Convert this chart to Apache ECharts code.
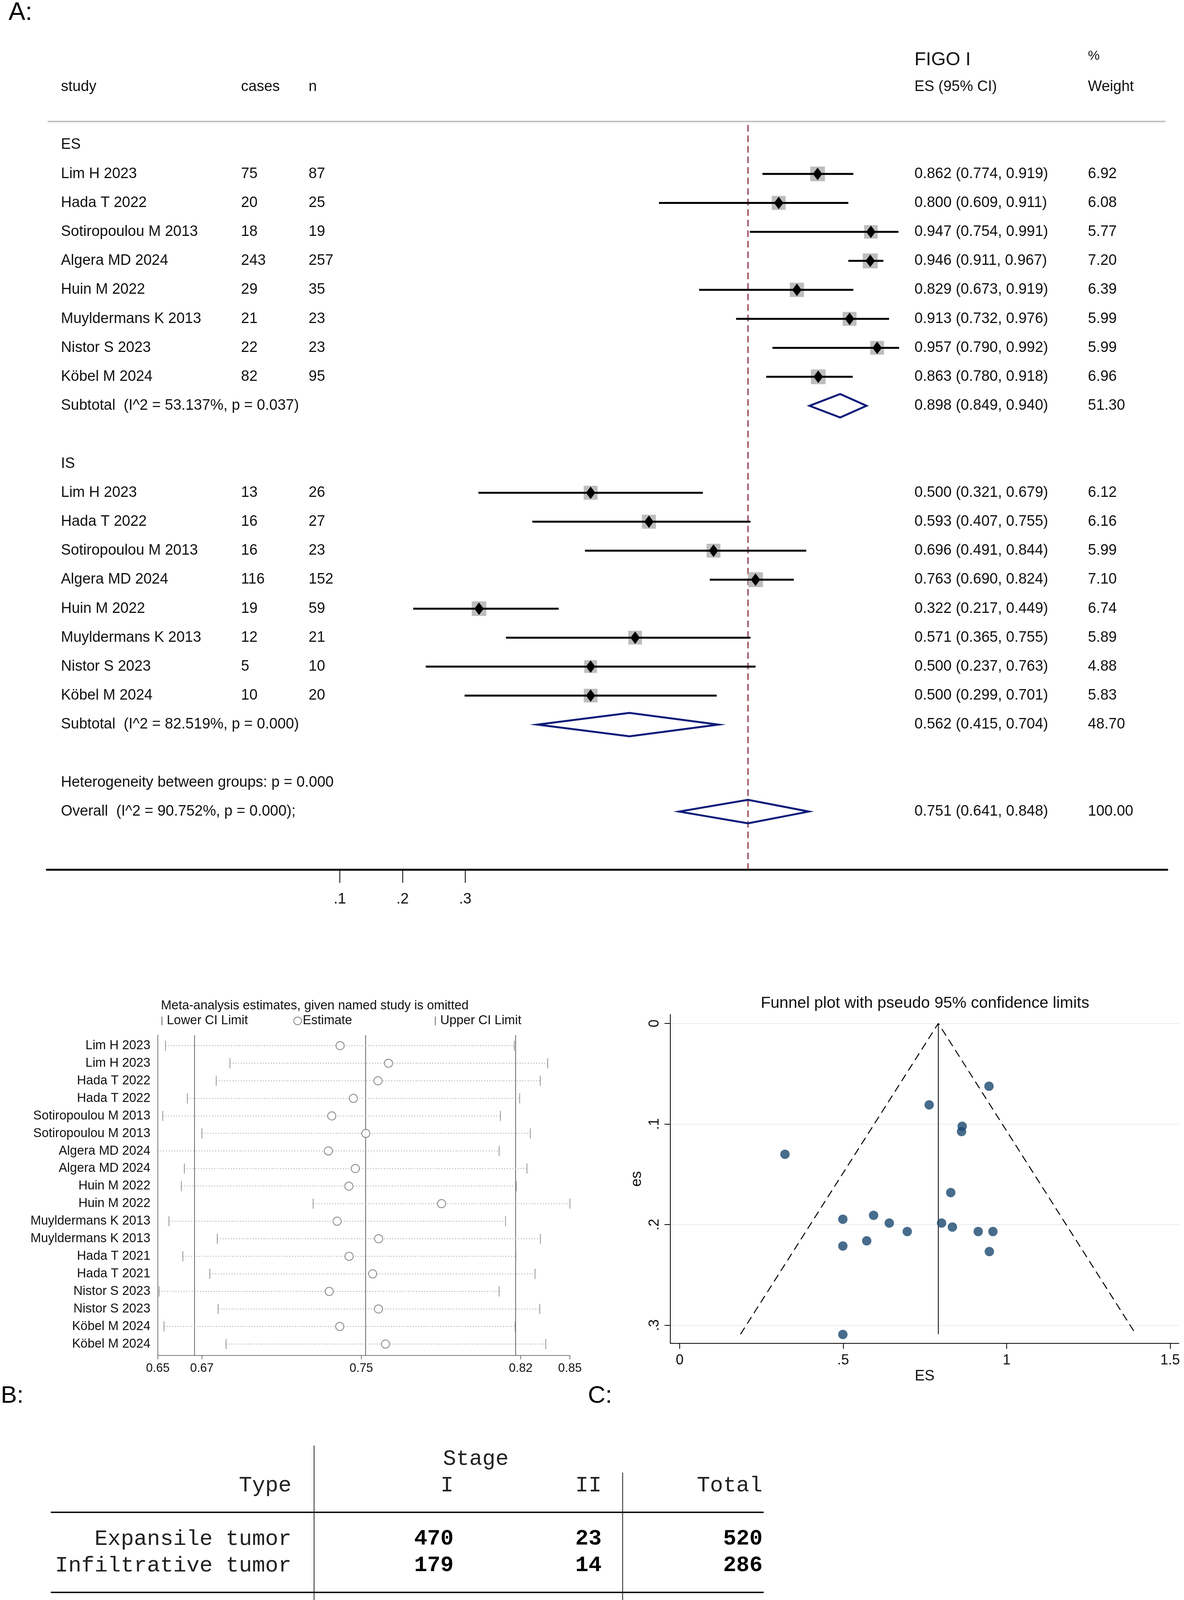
<!DOCTYPE html>
<html>
<head>
<meta charset="utf-8">
<title>Forest, influence and funnel plots</title>
<script src="https://cdn.jsdelivr.net/npm/echarts@6.0.0/dist/echarts.min.js"></script>
<style>
html,body{margin:0;padding:0;background:#ffffff;}
#chart{width:3031px;height:4981px;}
</style>
</head>
<body>
<div id="chart"></div>
<script>
// ---------------- Panel A: forest plot data ----------------
const studyNames = ['Lim H 2023','Hada T 2022','Sotiropoulou M 2013','Algera MD 2024','Huin M 2022','Muyldermans K 2013','Nistor S 2023','Köbel M 2024'];
const esCases  = [75, 20, 18, 243, 29, 21, 22, 82];
const esN      = [87, 25, 19, 257, 35, 23, 23, 95];
const esEst    = [0.862, 0.800, 0.947, 0.946, 0.829, 0.913, 0.957, 0.863];
const esLo     = [0.774, 0.609, 0.754, 0.911, 0.673, 0.732, 0.790, 0.780];
const esHi     = [0.919, 0.911, 0.991, 0.967, 0.919, 0.976, 0.992, 0.918];
const esWeight = [6.92, 6.08, 5.77, 7.20, 6.39, 5.99, 5.99, 6.96];
const isCases  = [13, 16, 16, 116, 19, 12, 5, 10];
const isN      = [26, 27, 23, 152, 59, 21, 10, 20];
const isEst    = [0.500, 0.593, 0.696, 0.763, 0.322, 0.571, 0.500, 0.500];
const isLo     = [0.321, 0.407, 0.491, 0.690, 0.217, 0.365, 0.237, 0.299];
const isHi     = [0.679, 0.755, 0.844, 0.824, 0.449, 0.755, 0.763, 0.701];
const isWeight = [6.12, 6.16, 5.99, 7.10, 6.74, 5.89, 4.88, 5.83];
const groupLabels    = ['ES', 'IS'];
const subtotalLabels = ['Subtotal  (I^2 = 53.137%, p = 0.037)', 'Subtotal  (I^2 = 82.519%, p = 0.000)'];
const subtotalEst    = [0.898, 0.562];
const subtotalLo     = [0.849, 0.415];
const subtotalHi     = [0.940, 0.704];
const subtotalWeight = [51.30, 48.70];
const heterogeneityText = 'Heterogeneity between groups: p = 0.000';
const overallLabel  = 'Overall  (I^2 = 90.752%, p = 0.000);';
const overallEst = 0.751, overallLo = 0.641, overallHi = 0.848, overallWeight = 100.00;
const forestTicks = [0.1, 0.2, 0.3];
const forestHeaders = ['study', 'cases', 'n', 'FIGO I', 'ES (95% CI)', '%', 'Weight'];

// ---------------- Panel B: influence analysis data ----------------
const bTitle = 'Meta-analysis estimates, given named study is omitted';
const bStudies = ['Lim H 2023','Lim H 2023','Hada T 2022','Hada T 2022','Sotiropoulou M 2013','Sotiropoulou M 2013','Algera MD 2024','Algera MD 2024','Huin M 2022','Huin M 2022','Muyldermans K 2013','Muyldermans K 2013','Hada T 2021','Hada T 2021','Nistor S 2023','Nistor S 2023','Köbel M 2024','Köbel M 2024'];
const bLower    = [0.6565,0.6866,0.6802,0.6667,0.6552,0.6735,0.6529,0.6653,0.6639,0.7255,0.6581,0.6807,0.6646,0.6772,0.6535,0.6811,0.6558,0.6848];
const bEstimate = [0.7381,0.7607,0.7558,0.7443,0.7342,0.7501,0.7326,0.7452,0.7422,0.7855,0.7367,0.7561,0.7423,0.7533,0.7330,0.7560,0.7379,0.7593];
const bUpper    = [0.8195,0.8351,0.8316,0.8220,0.8130,0.8270,0.8124,0.8254,0.8204,0.8455,0.8154,0.8317,0.8202,0.8292,0.8124,0.8314,0.8199,0.8342];
const bAxisTicks = [0.6529, 0.6735, 0.7480, 0.8225, 0.8455];
const bRefLines  = [0.6735, 0.7480, 0.8225];

// ---------------- Panel C: funnel plot data ----------------
const cTitle = 'Funnel plot with pseudo 95% confidence limits';
const funnelES = [0.946,0.763,0.864,0.862,0.322,0.829,0.593,0.499,0.641,0.801,0.834,0.696,0.913,0.958,0.572,0.499,0.947,0.499];
const funnelSE = [0.0625,0.0810,0.1023,0.1075,0.1301,0.1682,0.1908,0.1947,0.1985,0.1985,0.2025,0.2069,0.2069,0.2069,0.2162,0.2213,0.2268,0.3093];
const funnelPooled = 0.791;
const funnelSEMax = 0.309;
const funnelLimitLo = 0.186;
const funnelLimitHi = 1.395;
const funnelXTicks = [0, 0.5, 1, 1.5];
const funnelYTicks = [0, 0.1, 0.2, 0.3];

// ---------------- Panel D: contingency tables ----------------
const dTypes = ['Expansile tumor', 'Infiltrative tumor'];
const dStagesA = ['I', 'II'];
const dCountsA = [[470, 23], [179, 14]];
const dColTotalsA = [649, 37];
const dStagesB = ['III', 'IV'];
const dCountsB = [[19, 8], [73, 20]];
const dColTotalsB = [92, 28];
const dRowTotals = [520, 286];
const dGrandTotal = 806;
const dChiDf = '3', dChiValue = '110.9206', dChiP = '0.000';

// ================= build =================
const FONT = '"Liberation Sans", Arial, Helvetica, sans-serif';
const MONO = '"Liberation Mono", "Courier New", monospace';

// Panel A layout (pixel columns), rows come from the y axis
const aCols = {study: 156, cases: 617, n: 790, es: 2341, w: 2785};
const aText = [];
function addT(x, row, text, size) { aText.push({x: x, row: row, text: String(text), size: size || 38}); }
addT(aCols.study, -2, forestHeaders[0]);
addT(aCols.cases, -2, forestHeaders[1]);
addT(aCols.n, -2, forestHeaders[2]);
addT(aCols.es, -2.93, forestHeaders[3], 48);
addT(aCols.es, -2, forestHeaders[4]);
addT(aCols.w, -3.07, forestHeaders[5], 34);
addT(aCols.w, -2, forestHeaders[6]);
const fmtCI = (e, l, h) => e.toFixed(3) + ' (' + l.toFixed(3) + ', ' + h.toFixed(3) + ')';
const groups = [
  {cases: esCases, n: esN, est: esEst, lo: esLo, hi: esHi, w: esWeight, start: 0},
  {cases: isCases, n: isN, est: isEst, lo: isLo, hi: isHi, w: isWeight, start: 11}
];
const aStudyRows = [];
const aDiamonds = [];
groups.forEach((g, gi) => {
  addT(aCols.study, g.start, groupLabels[gi]);
  studyNames.forEach((nm, i) => {
    const r = g.start + 1 + i;
    addT(aCols.study, r, nm);
    addT(aCols.cases, r, g.cases[i]);
    addT(aCols.n, r, g.n[i]);
    addT(aCols.es, r, fmtCI(g.est[i], g.lo[i], g.hi[i]));
    addT(aCols.w, r, g.w[i].toFixed(2));
    aStudyRows.push([g.lo[i], g.hi[i], g.est[i], g.w[i], r]);
  });
  const sr = g.start + 9;
  addT(aCols.study, sr, subtotalLabels[gi]);
  addT(aCols.es, sr, fmtCI(subtotalEst[gi], subtotalLo[gi], subtotalHi[gi]));
  addT(aCols.w, sr, subtotalWeight[gi].toFixed(2));
  aDiamonds.push([subtotalLo[gi], subtotalHi[gi], subtotalEst[gi], sr]);
});
addT(aCols.study, 22, heterogeneityText);
addT(aCols.study, 23, overallLabel);
addT(aCols.es, 23, fmtCI(overallEst, overallLo, overallHi));
addT(aCols.w, 23, overallWeight.toFixed(2));
aDiamonds.push([overallLo, overallHi, overallEst, 23]);

// Panel D items
const dColRight = [746, 1161, 1540, 1952];
const dStageX = 1218, dVlineX = [804, 1594], dHline = [130, 1955], dChiX = 478;
const D_FS = 56, D_CW = D_FS * 0.6;
const dItems = [];
function dText(x, row, text, bold, align) { dItems.push({k: 't', x: x, row: row, text: String(text), bold: !!bold, align: align || 'right'}); }
[[dStagesA, dCountsA, dColTotalsA], [dStagesB, dCountsB, dColTotalsB]].forEach((tb, ti) => {
  const o = ti * 9.08;
  dText(dStageX, o, 'Stage', false, 'center');
  dText(dColRight[0], o + 1, 'Type');
  dText(dColRight[1], o + 1, tb[0][0]);
  dText(dColRight[2], o + 1, tb[0][1]);
  dText(dColRight[3], o + 1, 'Total');
  dItems.push({k: 'h', row: o + 2});
  dTypes.forEach((t, i) => {
    dText(dColRight[0], o + 3 + i, t);
    dText(dColRight[1], o + 3 + i, tb[1][i][0], true);
    dText(dColRight[2], o + 3 + i, tb[1][i][1], true);
    dText(dColRight[3], o + 3 + i, dRowTotals[i], true);
  });
  dItems.push({k: 'h', row: o + 5});
  dText(dColRight[0], o + 6, 'Total');
  dText(dColRight[1], o + 6, tb[2][0], true);
  dText(dColRight[2], o + 6, tb[2][1], true);
  dText(dColRight[3], o + 6, dGrandTotal, true);
  dItems.push({k: 'v', x: dVlineX[0], r1: o - 0.5, r2: o + 6.55});
  dItems.push({k: 'v', x: dVlineX[1], r1: o + 0.51, r2: o + 6.55});
});
// Pearson line (monospace pieces)
const chiPieces = [['Pearson chi2(', false], [dChiDf, true], [') = ', false], [dChiValue, true], ['   Pr = ', false], [dChiP, true]];
let chiOff = 0;
chiPieces.forEach(p => { dText(dChiX + chiOff * D_CW, 17.07, p[0], p[1], 'left'); chiOff += p[0].length; });

const chart = echarts.init(document.getElementById('chart'), null, {renderer: 'canvas', width: 3031, height: 4981});

const noGrid = {containLabel: false, outerBoundsMode: 'none'};

const option = {
  animation: false,
  backgroundColor: '#ffffff',
  textStyle: {fontFamily: FONT},
  grid: [
    Object.assign({left: 120, right: 43, top: 148.4, bottom: 4981 - 2226}, noGrid),
    Object.assign({left: 404, right: 3031 - 1459, top: 2650, bottom: 4981 - 3470}, noGrid),
    Object.assign({left: 1716, right: 13, top: 2597, bottom: 4981 - 3439}, noGrid),
    Object.assign({left: 0, right: 0, top: 3598.4, bottom: 16.6}, noGrid)
  ],
  xAxis: [
    {type: 'value', gridIndex: 0, min: -0.36729, max: 1.41963,
      axisLine: {show: true, onZero: false, lineStyle: {color: '#000', width: 5}},
      axisTick: {show: true, customValues: forestTicks, length: 34, lineStyle: {color: '#000', width: 2}},
      axisLabel: {show: true, customValues: forestTicks, formatter: v => String(v).replace(/^0/, ''), margin: 58, fontSize: 38, color: '#111', fontFamily: FONT},
      splitLine: {show: false}},
    {type: 'value', gridIndex: 1, min: bAxisTicks[0], max: bAxisTicks[bAxisTicks.length - 1],
      axisLine: {show: true, onZero: false, lineStyle: {color: '#777', width: 2}},
      axisTick: {show: true, customValues: bAxisTicks, length: 10, lineStyle: {color: '#777', width: 2}},
      axisLabel: {show: true, customValues: bAxisTicks, formatter: v => v.toFixed(2), margin: 18, fontSize: 31, color: '#111', fontFamily: FONT, showMinLabel: true, showMaxLabel: true},
      splitLine: {show: false}},
    {type: 'value', gridIndex: 2, min: -0.02867, max: 1.5269,
      name: 'ES', nameLocation: 'middle', nameGap: 66, nameTextStyle: {fontSize: 38, color: '#111', fontFamily: FONT},
      axisLine: {show: true, onZero: false, lineStyle: {color: '#000', width: 2}},
      axisTick: {show: true, customValues: funnelXTicks, length: 14, lineStyle: {color: '#000', width: 2}},
      axisLabel: {show: true, customValues: funnelXTicks, formatter: v => (v === 0 ? '0' : String(v).replace(/^0/, '')), margin: 26, fontSize: 36, color: '#111', fontFamily: FONT},
      splitLine: {show: false}},
    {type: 'value', gridIndex: 3, min: 0, max: 1, show: false}
  ],
  yAxis: [
    {type: 'value', gridIndex: 0, min: -3, max: 25, inverse: true, show: false},
    {type: 'value', gridIndex: 1, min: 0.4, max: 18.65, inverse: true,
      axisLine: {show: true, onZero: false, lineStyle: {color: '#777', width: 2}},
      axisTick: {show: false},
      axisLabel: {show: true, customValues: bStudies.map((s, i) => i + 1), formatter: v => bStudies[Math.round(v) - 1], margin: 19, fontSize: 32.5, color: '#111', fontFamily: FONT},
      splitLine: {show: false}},
    {type: 'value', gridIndex: 2, min: -0.0089, max: 0.3181, inverse: true,
      name: 'es', nameLocation: 'middle', nameGap: 66, nameRotate: 90, nameTextStyle: {fontSize: 38, color: '#111', fontFamily: FONT},
      axisLine: {show: true, onZero: false, lineStyle: {color: '#000', width: 2}},
      axisTick: {show: true, customValues: funnelYTicks, length: 15, lineStyle: {color: '#000', width: 2}},
      axisLabel: {show: true, customValues: funnelYTicks, rotate: 90, formatter: v => (v === 0 ? '0' : '.' + Math.round(v * 10)), margin: 22, fontSize: 36, color: '#111', fontFamily: FONT},
      splitLine: {show: false}},
    {type: 'value', gridIndex: 3, min: -2, max: 18, inverse: true, show: false}
  ],
  legend: [
    {data: ['Lower CI Limit'], left: 413, top: 2597, padding: 0, itemWidth: 3, itemHeight: 22, icon: 'rect', selectedMode: false,
      textStyle: {fontSize: 32.5, color: '#111', fontFamily: FONT, padding: [0, 0, 0, 6]}},
    {data: ['Estimate'], left: 751, top: 2597, padding: 0, itemWidth: 20, itemHeight: 20, selectedMode: false,
      textStyle: {fontSize: 32.5, color: '#111', fontFamily: FONT, padding: [0, 0, 0, -2]}},
    {data: ['Upper CI Limit'], left: 1113, top: 2597, padding: 0, itemWidth: 3, itemHeight: 22, icon: 'rect', selectedMode: false,
      textStyle: {fontSize: 32.5, color: '#111', fontFamily: FONT, padding: [0, 0, 0, 6]}}
  ],
  graphic: [
    {type: 'text', x: 22, y: 33, style: {text: 'A:', fontSize: 64, fontFamily: FONT, fill: '#000', verticalAlign: 'middle'}},
    {type: 'text', x: 2, y: 3574, style: {text: 'B:', fontSize: 62, fontFamily: FONT, fill: '#000', verticalAlign: 'middle'}},
    {type: 'text', x: 1505, y: 3574, style: {text: 'C:', fontSize: 62, fontFamily: FONT, fill: '#000', verticalAlign: 'middle'}},
    {type: 'text', x: 13, y: 4946, style: {text: 'D:', fontSize: 62, fontFamily: FONT, fill: '#000', verticalAlign: 'middle'}},
    {type: 'text', x: 412, y: 2575, style: {text: bTitle, fontSize: 32.5, fontFamily: FONT, fill: '#111', verticalAlign: 'middle'}},
    {type: 'text', x: 2368, y: 2569, style: {text: cTitle, fontSize: 41, fontFamily: FONT, fill: '#111', align: 'center', verticalAlign: 'middle'}}
  ],
  series: [
    // ---- A: header rule
    {type: 'line', xAxisIndex: 0, yAxisIndex: 0, silent: true, symbol: 'none',
      data: [[-0.366, -0.81], [1.417, -0.81]], lineStyle: {color: '#c4c4c4', width: 4}},
    // ---- A: reference (overall) dashed line
    {type: 'line', xAxisIndex: 0, yAxisIndex: 0, silent: true, symbol: 'none', z: 1,
      data: [[overallEst, -0.69], [overallEst, 25]], lineStyle: {color: '#8e2f3f', width: 3, type: [17, 10]}},
    // ---- A: study CIs, weight squares and point estimates
    {type: 'custom', xAxisIndex: 0, yAxisIndex: 0, clip: false, z: 3,
      encode: {x: [0, 1, 2], y: 4},
      data: aStudyRows,
      renderItem: (p, api) => {
        const lo = api.value(0), hi = api.value(1), e = api.value(2), w = api.value(3), r = api.value(4);
        const a = api.coord([lo, r]), b = api.coord([hi, r]), c = api.coord([e, r]);
        const s = 12 * Math.sqrt(w) + 6;
        return {type: 'group', children: [
          {type: 'rect', shape: {x: c[0] - s / 2, y: c[1] - s / 2, width: s, height: s}, style: {fill: '#bdbdbd'}},
          {type: 'line', shape: {x1: a[0], y1: a[1], x2: b[0], y2: b[1]}, style: {stroke: '#000', lineWidth: 5}},
          {type: 'polygon', shape: {points: [[c[0] - 12, c[1]], [c[0], c[1] - 16], [c[0] + 12, c[1]], [c[0], c[1] + 16]]}, style: {fill: '#000'}}
        ]};
      }},
    // ---- A: pooled diamonds
    {type: 'custom', xAxisIndex: 0, yAxisIndex: 0, clip: false, z: 3,
      encode: {x: [0, 1, 2], y: 3},
      data: aDiamonds,
      renderItem: (p, api) => {
        const lo = api.value(0), hi = api.value(1), e = api.value(2), r = api.value(3);
        const a = api.coord([lo, r]), b = api.coord([hi, r]), t = api.coord([e, r - 0.405]), d = api.coord([e, r + 0.405]);
        return {type: 'polygon', shape: {points: [a, t, b, d]}, style: {fill: 'rgba(255,255,255,0)', stroke: '#0d1b7a', lineWidth: 5, lineJoin: 'miter'}};
      }},
    // ---- A: text columns
    {type: 'custom', xAxisIndex: 0, yAxisIndex: 0, clip: false, silent: true,
      encode: {x: 0, y: 1},
      data: aText.map(t => [0, t.row]),
      renderItem: (p, api) => {
        const t = aText[p.dataIndex];
        const y = api.coord([0, t.row])[1];
        return {type: 'text', x: t.x, y: y, style: {text: t.text, fontSize: t.size, fontFamily: FONT, fill: '#111', align: 'left', verticalAlign: 'middle'}};
      }},
    // ---- B: dotted spans
    {type: 'custom', xAxisIndex: 1, yAxisIndex: 1, silent: true,
      encode: {x: [0, 1], y: 2},
      data: bLower.map((v, i) => [v, bUpper[i], i + 1]),
      renderItem: (p, api) => {
        const a = api.coord([api.value(0), api.value(2)]), b = api.coord([api.value(1), api.value(2)]);
        return {type: 'line', shape: {x1: a[0], y1: a[1], x2: b[0], y2: b[1]}, style: {stroke: '#9a9a9a', lineWidth: 2, lineDash: [2, 5]}};
      }},
    {name: 'Lower CI Limit', type: 'scatter', xAxisIndex: 1, yAxisIndex: 1, symbol: 'rect', symbolSize: [2, 26],
      itemStyle: {color: '#777'}, data: bLower.map((v, i) => [v, i + 1]), z: 4},
    {name: 'Upper CI Limit', type: 'scatter', xAxisIndex: 1, yAxisIndex: 1, symbol: 'rect', symbolSize: [2, 26],
      itemStyle: {color: '#777'}, data: bUpper.map((v, i) => [v, i + 1]), z: 4},
    {name: 'Estimate', type: 'scatter', xAxisIndex: 1, yAxisIndex: 1, symbol: 'emptyCircle', symbolSize: 21,
      itemStyle: {color: '#666', borderWidth: 1.5}, data: bEstimate.map((v, i) => [v, i + 1]), z: 5,
      markLine: {silent: true, symbol: ['none', 'none'], label: {show: false}, z: 1,
        lineStyle: {color: '#6a6a6a', width: 2, type: 'solid'},
        data: bRefLines.map(v => ({xAxis: v}))}},
    // ---- C: funnel
    {name: 'funnel', type: 'scatter', xAxisIndex: 2, yAxisIndex: 2, symbol: 'circle', symbolSize: 24, z: 5,
      itemStyle: {color: '#1a476f'}, data: funnelES.map((v, i) => [v, funnelSE[i]]),
      markLine: {silent: true, symbol: ['none', 'none'], label: {show: false}, z: 0,
        lineStyle: {color: '#e7edf0', width: 2, type: 'solid'},
        data: funnelYTicks.map(v => ({yAxis: v}))}},
    {type: 'line', xAxisIndex: 2, yAxisIndex: 2, symbol: 'none', silent: true, z: 3,
      data: [[funnelPooled, 0], [funnelPooled, funnelSEMax]], lineStyle: {color: '#000', width: 2}},
    {type: 'line', xAxisIndex: 2, yAxisIndex: 2, symbol: 'none', silent: true, z: 3,
      data: [[funnelLimitLo, funnelSEMax], [funnelPooled, 0], [funnelLimitHi, funnelSEMax]], lineStyle: {color: '#000', width: 2.5, type: [20, 12]}},
    // ---- D: tables
    {type: 'custom', xAxisIndex: 3, yAxisIndex: 3, clip: false, silent: true,
      encode: {x: 0, y: 1},
      data: dItems.map(it => [0, it.row !== undefined ? it.row : it.r1]),
      renderItem: (p, api) => {
        const it = dItems[p.dataIndex];
        if (it.k === 't') {
          const y = api.coord([0, it.row])[1];
          return {type: 'text', x: it.x, y: y, style: {text: it.text, fontSize: D_FS, fontFamily: MONO, fontWeight: it.bold ? 'bold' : 'normal', fill: it.bold ? '#000' : '#222', align: it.align, verticalAlign: 'middle'}};
        }
        if (it.k === 'h') {
          const y = api.coord([0, it.row])[1];
          return {type: 'line', shape: {x1: dHline[0], y1: y, x2: dHline[1], y2: y}, style: {stroke: '#000', lineWidth: 3.5}};
        }
        const y1 = api.coord([0, it.r1])[1], y2 = api.coord([0, it.r2])[1];
        return {type: 'line', shape: {x1: it.x, y1: y1, x2: it.x, y2: y2}, style: {stroke: '#222', lineWidth: 2}};
      }}
  ]
};
chart.setOption(option);
</script>
</body>
</html>
